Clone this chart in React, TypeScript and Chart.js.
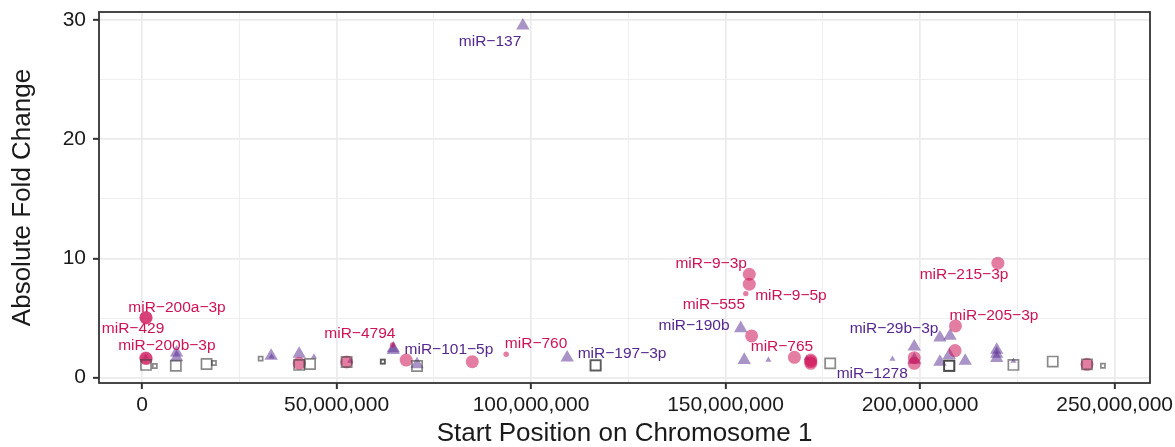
import React, { useEffect, useRef } from "react";
import { Chart, registerables } from "chart.js";

Chart.register(...registerables);

// ---- Data (x in Mb on chromosome 1, y = absolute fold change) ----
// Up-regulated miRNAs (pink circles)
const circleX = [1.03, 1.03, 0.95, 1.1, 40.4, 52.6, 64.4, 67.9, 84.9, 93.6, 156.1, 156.1, 155.2, 156.7, 167.7, 171.9, 171.9, 171.9, 198.5, 198.5, 209.1, 209.0, 220.0, 242.9];
const circleY = [5.03, 5.03, 1.65, 1.6, 1.2, 1.32, 2.74, 1.48, 1.34, 1.96, 8.67, 7.84, 7.05, 3.5, 1.71, 1.48, 1.2, 1.35, 1.68, 1.2, 4.34, 2.27, 9.6, 1.12];
const circleSignif = [1, 1, 1, 1, 1, 1, 0, 1, 1, 0, 1, 1, 0, 1, 1, 1, 1, 1, 1, 1, 1, 1, 1, 1];

// Down-regulated miRNAs (purple triangles)
const triX = [97.9, 0.95, 8.9, 8.9, 33.2, 33.3, 40.4, 44.2, 53.5, 64.6, 64.6, 70.7, 109.3, 153.9, 154.8, 161.0, 170.9, 192.9, 198.5, 198.5, 205.1, 207.7, 205.1, 207.5, 211.6, 219.7, 219.7, 219.7, 224.0];
const triY = [29.5, 1.74, 2.1, 1.7, 1.82, 1.75, 1.99, 1.76, 1.4, 2.46, 2.3, 1.12, 1.68, 4.14, 1.48, 1.48, 1.63, 1.57, 1.5, 2.6, 3.36, 3.5, 1.32, 1.88, 1.4, 2.32, 1.99, 1.63, 1.4];
const triSignif = [1, 0, 1, 1, 1, 0, 1, 0, 0, 1, 1, 1, 1, 1, 1, 0, 0, 0, 1, 1, 1, 1, 1, 1, 1, 1, 1, 1, 0];

// Unchanged miRNAs (grey open squares)
const sqX = [1.03, 3.3, 8.7, 16.6, 18.5, 30.5, 40.4, 43.2, 52.6, 61.9, 61.9, 70.7, 116.6, 116.6, 176.9, 207.5, 207.5, 207.5, 224.0, 234.1, 242.9, 247.0];
const sqY = [1.07, 0.98, 1.0, 1.15, 1.23, 1.6, 1.07, 1.15, 1.32, 1.35, 1.35, 0.98, 1.04, 1.02, 1.2, 1.0, 1.02, 0.98, 1.07, 1.35, 1.12, 1.0];
const sqSignif = [1, 0, 1, 1, 0, 0, 1, 1, 1, 0, 0, 1, 1, 1, 1, 1, 1, 1, 1, 1, 1, 0];

// Text labels (repelled label positions, data units)
const labelText = ["miR−137", "miR−200a−3p", "miR−429", "miR−200b−3p", "miR−4794", "miR−101−5p", "miR−760", "miR−197−3p", "miR−9−3p", "miR−9−5p", "miR−555", "miR−190b", "miR−765", "miR−1278", "miR−29b−3p", "miR−215−3p", "miR−205−3p"];
const labelX = [89.46, 9.0, -2.3, 6.4, 56.0, 78.9, 101.3, 123.4, 146.3, 166.8, 147.0, 141.9, 164.5, 187.7, 193.3, 211.3, 219.0];
const labelY = [28.16, 5.85, 4.1, 2.66, 3.67, 2.33, 2.83, 1.99, 9.54, 6.85, 6.1, 4.34, 2.58, 0.31, 4.09, 8.61, 5.18];
const labelGroup = ["down", "up", "up", "up", "up", "down", "up", "down", "up", "up", "up", "down", "up", "down", "down", "up", "up"];

// Axis ticks
const xMajorTicks = [0, 50e6, 100e6, 150e6, 200e6, 250e6];
const xMinorTicks = [25e6, 75e6, 125e6, 175e6, 225e6];
const yMajorTicks = [0, 10, 20, 30];
const yMinorTicks = [5, 15, 25];

const X_MIN = -11.05e6;
const X_MAX = 259.1e6;
const Y_MIN = -0.445;
const Y_MAX = 30.65;

const PINK = "#CE1256";
const PURPLE = "#54278F";
const FONT = '"Liberation Sans", Arial, Helvetica, sans-serif';

const toPoints = (xs: number[], ys: number[]) => xs.map((x, i) => ({ x: x * 1e6, y: ys[i] }));

const overlayPlugin = {
  id: "overlay",
  afterDatasetsDraw(chart: any) {
    const { ctx, chartArea, scales } = chart;
    ctx.save();
    ctx.font = `15.5px ${FONT}`;
    ctx.textAlign = "center";
    ctx.textBaseline = "middle";
    labelText.forEach((t, i) => {
      ctx.fillStyle = labelGroup[i] === "up" ? PINK : PURPLE;
      ctx.fillText(t, scales.x.getPixelForValue(labelX[i] * 1e6), scales.y.getPixelForValue(labelY[i]));
    });
    ctx.strokeStyle = "#333333";
    ctx.lineWidth = 1.8;
    ctx.strokeRect(chartArea.left, chartArea.top, chartArea.right - chartArea.left, chartArea.bottom - chartArea.top);
    ctx.restore();
  },
};

const zeroPadding = (scale: any) => {
  scale.paddingTop = 0;
  scale.paddingBottom = 0;
  scale.paddingLeft = 0;
  scale.paddingRight = 0;
};

export default function App() {
  const canvasRef = useRef<HTMLCanvasElement | null>(null);

  useEffect(() => {
    if (!canvasRef.current) return;
    const isMajorX = (v: number) => xMajorTicks.includes(v);
    const isMajorY = (v: number) => yMajorTicks.includes(v);

    const chart = new Chart(canvasRef.current, {
      type: "scatter",
      data: {
        datasets: [
          {
            label: "Unchanged",
            data: toPoints(sqX, sqY),
            pointStyle: "rect",
            pointRadius: sqSignif.map((s) => (s ? 7.2 : 2.9)),
            backgroundColor: "rgba(0,0,0,0)",
            borderColor: "rgba(60,60,60,0.6)",
            borderWidth: 1.7,
          },
          {
            label: "Up",
            data: toPoints(circleX, circleY),
            pointStyle: "circle",
            pointRadius: circleSignif.map((s) => (s ? 6.5 : 2.7)),
            backgroundColor: "rgba(206,18,86,0.55)",
            borderWidth: 0,
          },
          {
            label: "Down",
            data: toPoints(triX, triY),
            pointStyle: "triangle",
            pointRadius: triSignif.map((s) => (s ? 7.7 : 3.5)),
            backgroundColor: "rgba(84,39,143,0.5)",
            borderWidth: 0,
          },
        ],
      },
      options: {
        animation: false,
        responsive: true,
        maintainAspectRatio: false,
        layout: { padding: { left: 0, right: 25, top: 12, bottom: 0 } },
        plugins: { legend: { display: false }, tooltip: { enabled: false } },
        scales: {
          x: {
            type: "linear",
            min: X_MIN,
            max: X_MAX,
            afterBuildTicks: (scale: any) => {
              scale.ticks = [...xMajorTicks, ...xMinorTicks].sort((a, b) => a - b).map((v) => ({ value: v }));
            },
            afterFit: (scale: any) => {
              scale.height = 64;
              zeroPadding(scale);
            },
            ticks: {
              autoSkip: false,
              maxRotation: 0,
              padding: 4,
              color: "#1a1a1a",
              font: { family: FONT, size: 21 },
              callback: (v: any) => (isMajorX(Number(v)) ? Number(v).toLocaleString("en-US") : ""),
            },
            grid: {
              color: "#EBEBEB",
              lineWidth: (c: any) => (isMajorX(c.tick?.value) ? 1.7 : 0.8),
              tickColor: (c: any) => (isMajorX(c.tick?.value) ? "#333333" : "rgba(0,0,0,0)"),
              tickWidth: 2,
              tickLength: 6,
            },
            border: { display: false },
            title: {
              display: true,
              text: "Start Position on Chromosome 1",
              color: "#1a1a1a",
              font: { family: FONT, size: 26 },
              padding: { top: 0, bottom: -2 },
            },
          },
          y: {
            type: "linear",
            min: Y_MIN,
            max: Y_MAX,
            afterBuildTicks: (scale: any) => {
              scale.ticks = [...yMajorTicks, ...yMinorTicks].sort((a, b) => a - b).map((v) => ({ value: v }));
            },
            afterFit: (scale: any) => {
              scale.width = 99;
              zeroPadding(scale);
            },
            ticks: {
              autoSkip: false,
              padding: 7,
              color: "#1a1a1a",
              font: { family: FONT, size: 21 },
              callback: (v: any) => (isMajorY(Number(v)) ? String(v) : ""),
            },
            grid: {
              color: "#EBEBEB",
              lineWidth: (c: any) => (isMajorY(c.tick?.value) ? 1.7 : 0.8),
              tickColor: (c: any) => (isMajorY(c.tick?.value) ? "#333333" : "rgba(0,0,0,0)"),
              tickWidth: 2,
              tickLength: 6,
            },
            border: { display: false },
            title: {
              display: true,
              text: "Absolute Fold Change",
              color: "#1a1a1a",
              font: { family: FONT, size: 26 },
              padding: { top: 7, bottom: 0 },
            },
          },
        },
      },
      plugins: [overlayPlugin],
    });

    return () => chart.destroy();
  }, []);

  return (
    <div style={{ position: "fixed", left: 0, top: 0, width: 1175, height: 447, background: "#ffffff" }}>
      <canvas ref={canvasRef} />
    </div>
  );
}
